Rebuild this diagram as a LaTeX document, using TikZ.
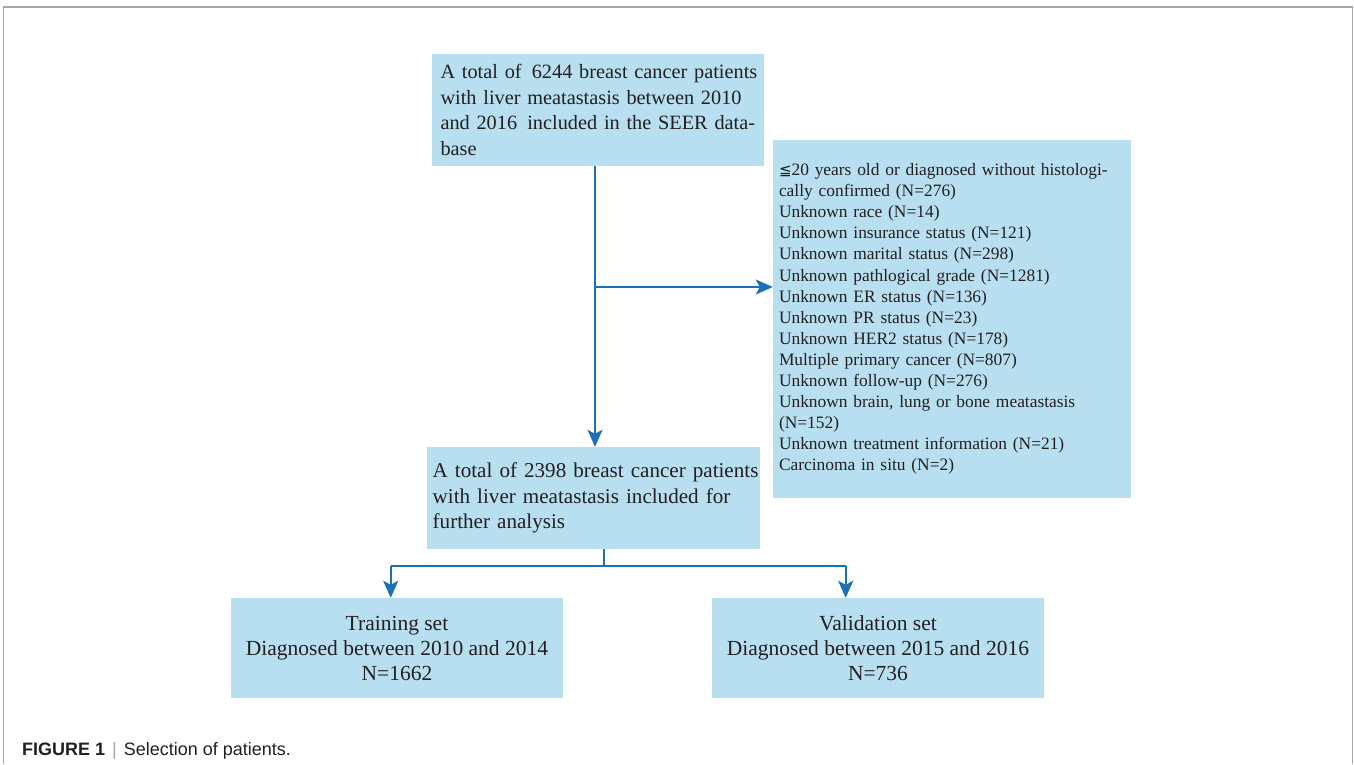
\documentclass[tikz,border=0pt]{standalone}
\usepackage{fontspec}
\setmainfont{Liberation Serif}
\newfontfamily\capfont{Liberation Sans}
\newfontfamily\symfont{DejaVu Sans}
\usetikzlibrary{arrows.meta}
\definecolor{boxblue}{RGB}{184,223,240}
\definecolor{arrblue}{RGB}{28,112,186}
\definecolor{framegray}{RGB}{166,166,166}
\definecolor{txtcol}{RGB}{35,31,32}
\newcommand{\oneline}[1]{\mbox{#1}}
\tikzset{
  box/.style={fill=boxblue, draw=none, rectangle, text=txtcol},
  arr/.style={draw=arrblue, line width=2pt, -{Stealth[length=17pt,width=15pt,inset=4pt]}},
  conn/.style={draw=arrblue, line width=2pt},
  frameline/.style={draw=framegray}
}
\begin{document}
\begin{tikzpicture}[x=1pt,y=-1pt]
\useasboundingbox (0,0) rectangle (1354,764);
% frame
\draw[frameline, line width=1pt] (3,764) -- (3,6.5) -- (1352,6.5) -- (1352,764);
\draw[frameline, line width=2pt] (3,6.5) -- (1352,6.5);

% boxes
\node[box, minimum width=332pt, minimum height=112pt, inner xsep=8.5pt, text width=315pt, align=left,
  font=\fontsize{20.3}{25.6}\selectfont] (top) at (598,110)
  {\oneline{A total of\hspace{0.5em}6244 breast cancer patients}\\\oneline{with liver meatastasis between 2010}\\\oneline{and 2016\hspace{0.5em}included in the SEER data-}\\\oneline{base}};

\node[box, minimum width=358pt, minimum height=358pt, inner xsep=6pt, text width=346pt, align=left,
  font=\fontsize{17.4}{21.07}\selectfont] (right) at (952,319)
  {\oneline{{\symfont\fontsize{15}{21.07}\selectfont ≦}20 years old or diagnosed without histologi-}\\
   cally confirmed (N=276)\\
   Unknown race (N=14)\\
   Unknown insurance status (N=121)\\
   Unknown marital status (N=298)\\
   Unknown pathlogical grade (N=1281)\\
   Unknown ER status (N=136)\\
   Unknown PR status (N=23)\\
   Unknown HER2 status (N=178)\\
   Multiple primary cancer (N=807)\\
   Unknown follow-up (N=276)\\
   \oneline{Unknown brain, lung or bone meatastasis}\\
   (N=152)\\
   Unknown treatment information (N=21)\\
   Carcinoma in situ (N=2)};

\node[box, minimum width=333pt, minimum height=102pt, inner xsep=5.4pt, text width=322pt, align=left,
  font=\fontsize{21.1}{25.5}\selectfont] (mid) at (593.7,498)
  {\oneline{A total of 2398 breast cancer patients}\\\oneline{with liver meatastasis included for}\\\oneline{further analysis}};

\node[box, minimum width=332pt, minimum height=100pt, align=center,
  font=\fontsize{21.5}{25}\selectfont] (train) at (397,648)
  {Training set\\Diagnosed between 2010 and 2014\\N=1662};

\node[box, minimum width=332pt, minimum height=100pt, align=center,
  font=\fontsize{21.5}{25}\selectfont] (valid) at (878,648)
  {Validation set\\Diagnosed between 2015 and 2016\\N=736};

% connector coordinates
\coordinate (trunk) at (595,0);
\coordinate (br) at (595,287);
\coordinate (split) at (604,566);
\coordinate (ta) at (390.7,566);
\coordinate (va) at (845.7,566);

% connectors
\draw[arr] (top.south -| trunk) -- (mid.north -| trunk);
\draw[arr] (br) -- (br -| right.west);
\draw[conn] (mid.south -| split) -- (split);
\draw[conn] (ta) -- (va);
\draw[arr] (ta) -- (ta |- train.north);
\draw[arr] (va) -- (va |- valid.north);

% caption
\node[anchor=base west, inner sep=0pt, font=\capfont\fontsize{18}{21}\selectfont, text=txtcol] (cap) at (22,755)
  {{\bfseries FIGURE 1}\hspace{7pt}{\color{framegray}|}\hspace{7pt}Selection of patients.};
\end{tikzpicture}
\end{document}
